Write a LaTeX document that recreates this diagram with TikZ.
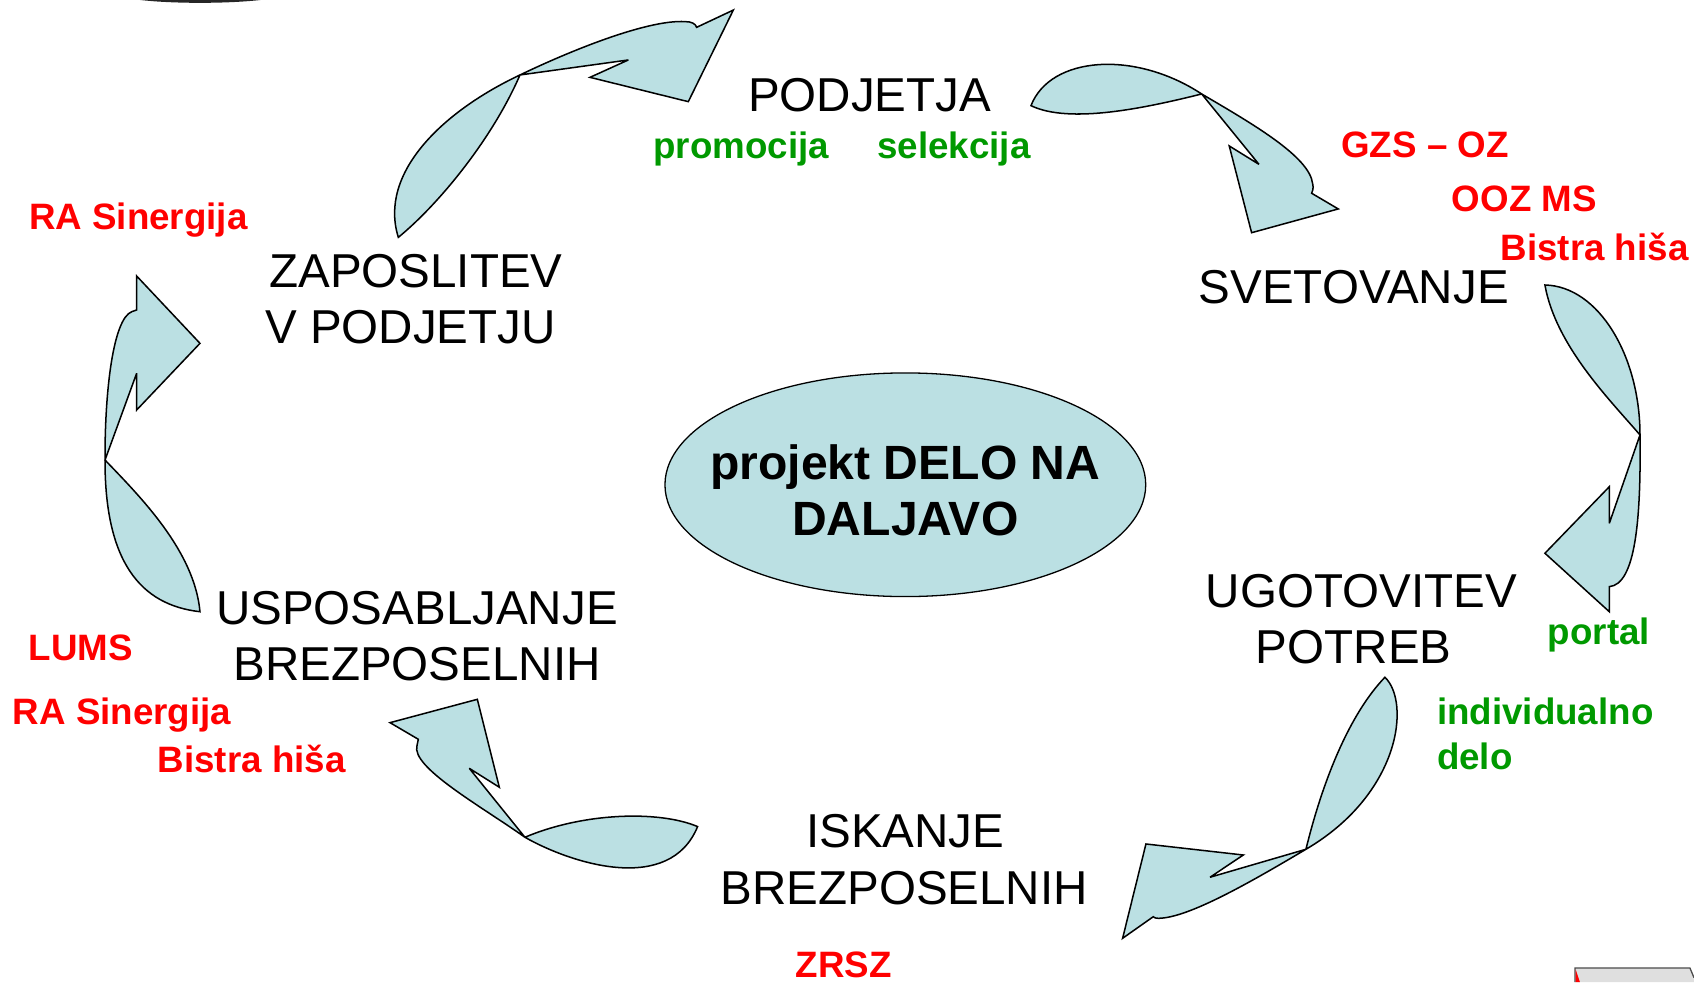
\documentclass[tikz,border=0pt]{standalone}
\usepackage{fontspec}
\usetikzlibrary{shapes.geometric}
\setmainfont{Liberation Sans}
\definecolor{fillblue}{HTML}{BBE0E3}
\definecolor{lblred}{RGB}{255,0,0}
\definecolor{lblgreen}{RGB}{0,153,0}
\tikzset{
  arrowshape/.style={fill=fillblue, draw=black, line width=1.4pt, line join=miter, miter limit=4},
  stage/.style={font=\fontsize{44}{50}\selectfont, anchor=base, inner sep=0pt, text=black},
  redlbl/.style={font=\fontsize{34}{40}\selectfont\bfseries, text=lblred, anchor=base, inner sep=0pt},
  greenlbl/.style={font=\fontsize{34}{40}\selectfont\bfseries, text=lblgreen, anchor=base, inner sep=0pt},
  centerlbl/.style={font=\fontsize{44.5}{50}\selectfont\bfseries, anchor=base, inner sep=0pt},
}
\begin{document}
\begin{tikzpicture}[x=1pt,y=-1pt]
\useasboundingbox (0,0) rectangle (1568,909);

% corner fragments
\fill[black!85] (130,0) .. controls (160,3.5) and (210,3.5) .. (241,0) -- cycle;
\fill[gray!25] (1457.8,895.9) -- (1564.2,895.9) -- (1568,906) -- (1568,909) -- (1457.8,909) -- cycle;
\draw[black!70, line width=1.2pt] (1457.8,909) -- (1457.8,895.9) -- (1564.2,895.9) -- (1568,905);
\fill[lblred] (1458.5,897.5) -- (1462.4,909) -- (1458.5,909) -- cycle;

% central ellipse
\node[ellipse, draw=black, line width=1.2pt, fill=fillblue, minimum width=445pt, minimum height=207pt, inner sep=0pt] (centre) at (838,448.7) {};
\node[centerlbl] (c1) at (838,444) {projekt DELO NA};
\node[centerlbl] (c2) at (838,496) {DALJAVO};

% curved arrows
% 1: ZAPOSLITEV -> PODJETJA
\draw[arrowshape] (368.7,219.7) .. controls (350,160) and (410,103) .. (481.3,69.4)
  .. controls (530,46) and (600,18) .. (634,20)
  .. controls (640,20) and (644,22) .. (644.8,25.3)
  -- (678.8,9.3) -- (637.1,94.1) -- (546.1,71.6) -- (581.6,55.5)
  -- (481.3,69.4) .. controls (455,130) and (405,190) .. cycle;
% 2: PODJETJA -> SVETOVANJE
\draw[arrowshape] (954.3,97.8) .. controls (972,52) and (1050,46) .. (1112.3,87)
  .. controls (1160,115) and (1212,145) .. (1215,170)
  .. controls (1216,174) and (1215,177) .. (1214.1,178.9)
  -- (1238.7,193.4) -- (1158.5,215.4) -- (1137.8,135.1) -- (1165.3,152.1)
  -- (1112.3,87) .. controls (1060,100) and (990,115) .. cycle;
% 3: SVETOVANJE -> UGOTOVITEV
\draw[arrowshape] (1430,263.8) .. controls (1480,265) and (1518,330) .. (1518,402.6)
  .. controls (1519,480) and (1514,541) .. (1489.6,543)
  -- (1489.6,566.2) -- (1430,512.1) -- (1489.6,450.5) -- (1489.6,484.4)
  -- (1518,402.6) .. controls (1490,370) and (1440,320) .. cycle;
% 4: UGOTOVITEV -> ISKANJE
\draw[arrowshape] (1281.9,626.9) .. controls (1306,650) and (1296,735) .. (1208.8,786.1)
  .. controls (1160,815) and (1100,850) .. (1072,850)
  .. controls (1070,850) and (1068,849.5) .. (1067.5,848.5)
  -- (1039.1,868.5) -- (1060.7,781.2) -- (1150.8,791.4) -- (1120,812)
  -- (1208.8,786.1) .. controls (1225,720) and (1250,660) .. cycle;
% 5: ISKANJE -> USPOSABLJANJE
\draw[arrowshape] (645.7,765.1) .. controls (610,750) and (540,752) .. (485.9,775)
  .. controls (445,746) and (380,710) .. (386,690)
  -- (387.2,684.3) -- (361,668.9) -- (441.8,647.3) -- (462.2,728.7) -- (434.4,711.2)
  -- (485.9,775) .. controls (530,800) and (620,828) .. cycle;
% 6: USPOSABLJANJE -> ZAPOSLITEV
\draw[arrowshape] (185.1,566.2) .. controls (130,560) and (97,520) .. (97.2,425.8)
  .. controls (97,360) and (105,295) .. (122,288.5)
  -- (126.5,286.9) -- (126.5,255.5) -- (185.1,317.8) -- (126.5,379.5) -- (126.5,345.5)
  -- (97.2,425.8) .. controls (130,460) and (180,510) .. cycle;

% stage texts
\node[stage] (podjetja) at (805,103) {PODJETJA};
\node[stage] (svetovanje) at (1253,281) {SVETOVANJE};
\node[stage] (zap1) at (385,266) {ZAPOSLITEV};
\node[stage] (zap2) at (380,318) {V PODJETJU};
\node[stage] (ugo1) at (1260,562) {UGOTOVITEV};
\node[stage] (ugo2) at (1253,614) {POTREB};
\node[stage] (isk1) at (838,784) {ISKANJE};
\node[stage] (isk2) at (837,837) {BREZPOSELNIH};
\node[stage] (usp1) at (386,578) {USPOSABLJANJE};
\node[stage] (usp2) at (386,630) {BREZPOSELNIH};

% green labels
\node[greenlbl] (promocija) at (686,147) {promocija};
\node[greenlbl] (selekcija) at (883,147) {selekcija};
\node[greenlbl] (portal) at (1480,597) {portal};
\node[greenlbl, anchor=base west] (indiv) at (1330,671) {individualno};
\node[greenlbl, anchor=base west] (delo) at (1330,712) {delo};

% red labels
\node[redlbl] (gzs) at (1319,146) {GZS – OZ};
\node[redlbl] (ooz) at (1411,196) {OOZ MS};
\node[redlbl] (bistra1) at (1476,241) {Bistra hiša};
\node[redlbl] (ras1) at (128,212) {RA Sinergija};
\node[redlbl] (zrsz) at (781,905) {ZRSZ};
\node[redlbl] (lums) at (75,611) {LUMS};
\node[redlbl] (ras2) at (113,671) {RA Sinergija};
\node[redlbl] (bistra2) at (233,715) {Bistra hiša};
\end{tikzpicture}
\end{document}
